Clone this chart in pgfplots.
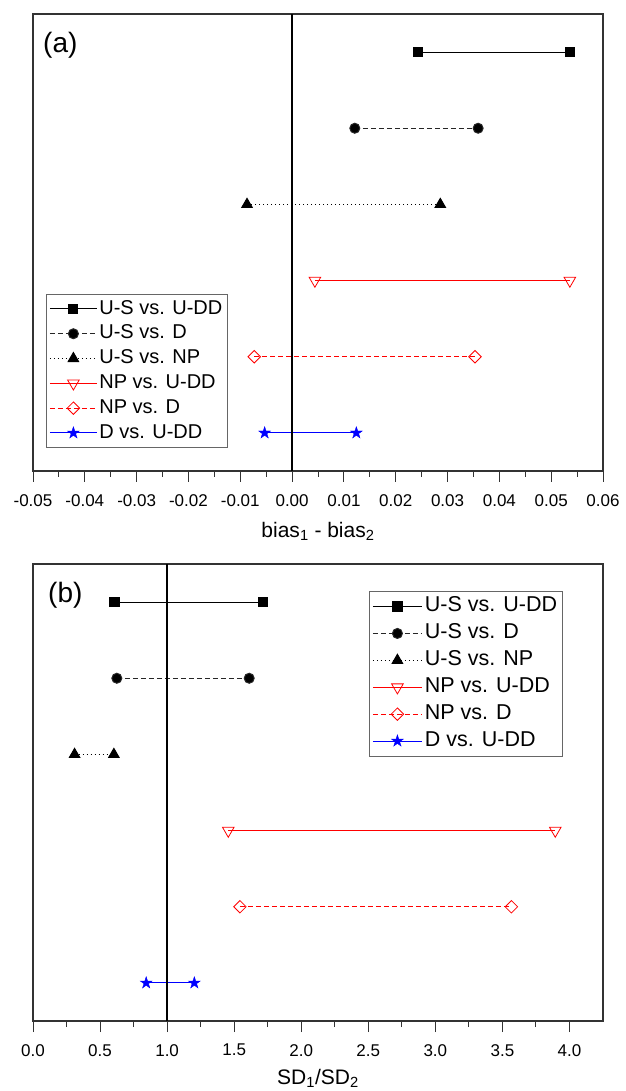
\documentclass[border=0pt]{standalone}
\usepackage{fontspec}
\setmainfont{Liberation Sans}
\usepackage{pgfplots}
\pgfplotsset{compat=1.18}
\usetikzlibrary{plotmarks}

\pgfdeclareplotmark{fstar}{%
  \pgfpathmoveto{\pgfpointpolar{90}{\pgfplotmarksize}}%
  \pgfpathlineto{\pgfpointpolar{126}{0.382\pgfplotmarksize}}%
  \pgfpathlineto{\pgfpointpolar{162}{\pgfplotmarksize}}%
  \pgfpathlineto{\pgfpointpolar{198}{0.382\pgfplotmarksize}}%
  \pgfpathlineto{\pgfpointpolar{234}{\pgfplotmarksize}}%
  \pgfpathlineto{\pgfpointpolar{270}{0.382\pgfplotmarksize}}%
  \pgfpathlineto{\pgfpointpolar{306}{\pgfplotmarksize}}%
  \pgfpathlineto{\pgfpointpolar{342}{0.382\pgfplotmarksize}}%
  \pgfpathlineto{\pgfpointpolar{18}{\pgfplotmarksize}}%
  \pgfpathlineto{\pgfpointpolar{54}{0.382\pgfplotmarksize}}%
  \pgfpathclose
  \pgfusepathqfillstroke}

\pgfplotsset{
  panel/.style={
    scale only axis, width=570pt, height=457pt,
    ymin=0.5, ymax=6.5, ytick=\empty,
    scaled x ticks=false,
    axis line style={line width=1.2pt, black!80},
    xtick pos=bottom, tick align=outside,
    major tick length=11pt, minor tick length=6pt,
    minor x tick num=1,
    every tick/.style={black!80, line width=1pt},
    xticklabel style={font=\fontsize{17}{20}\selectfont, inner sep=0pt, anchor=north},
    xticklabel shift=12pt,
    clip=false,
    legend cell align=left,
  },
  s1/.style={black, line width=1pt, solid, mark=square*, mark size=4.6pt, mark options={solid, fill=black}},
  s2/.style={black!85, line width=1pt, dash pattern=on 5pt off 3pt, mark=*, mark size=5pt, mark options={solid, fill=black}},
  s3/.style={black, line width=1pt, dash pattern=on 1pt off 3pt, mark=triangle*, mark size=6pt, mark options={solid, fill=black}},
  s4/.style={red, line width=1pt, solid, mark=triangle, mark size=6.7pt, mark options={solid, rotate=180, fill=white, line width=0.8pt}},
  s5/.style={red, line width=1pt, dash pattern=on 5pt off 3pt, mark=square, mark size=4.4pt, mark options={solid, rotate=45, fill=white, line width=0.8pt}},
  s6/.style={blue, line width=1pt, solid, mark=fstar, mark size=6.2pt, mark options={solid, fill=blue, line width=0.4pt}},
}

\begin{document}
\begin{tikzpicture}
\begin{axis}[panel,
  at={(33pt,-14pt)}, anchor=north west,
  xmin=-0.05, xmax=0.06,
  xtick={-0.05,-0.04,-0.03,-0.02,-0.01,0,0.01,0.02,0.03,0.04,0.05,0.06},
  xticklabels={-0.05,-0.04,-0.03,-0.02,-0.01,0.00,0.01,0.02,0.03,0.04,0.05,0.06},
  xlabel={bias\textsubscript{1} - bias\textsubscript{2}},
  xlabel style={font=\fontsize{21}{25}\selectfont, at={(axis description cs:0.5,0)}, anchor=base, yshift=-66.7pt, inner sep=0pt},
  legend image code/.code={%
    \draw[#1, mark=none] (0pt,0pt) -- (47pt,0pt);
    \draw[#1] plot coordinates {(23.5pt,0pt)};},
  legend style={at={(axis description cs:0.0228,0.387)}, anchor=north west,
    draw=black!60, line width=0.8pt,
    font=\fontsize{20}{24}\selectfont,
    nodes={inner xsep=2pt, inner ysep=3pt, text height=14.5pt, text depth=4.3pt}},
]
\addplot[s1] coordinates {(0.0243,6) (0.0537,6)};
\addlegendentry{U-S vs. U-DD}
\addplot[s2] coordinates {(0.0121,5) (0.0359,5)};
\addlegendentry{U-S vs. D}
\addplot[s3] coordinates {(-0.0087,4) (0.0286,4)};
\addlegendentry{U-S vs. NP}
\addplot[s4] coordinates {(0.0044,3) (0.0536,3)};
\addlegendentry{NP vs. U-DD}
\addplot[s5] coordinates {(-0.0073,2) (0.0353,2)};
\addlegendentry{NP vs. D}
\addplot[s6] coordinates {(-0.0053,1) (0.0124,1)};
\addlegendentry{D vs. U-DD}
\addplot[black, line width=1.6pt, forget plot] coordinates {(0,0.5) (0,6.5)};
\node[anchor=base west, inner sep=0pt, font=\fontsize{28}{32}\selectfont] at (axis description cs:0.0175,0.9162) {(a)};
\end{axis}

\begin{axis}[panel,
  at={(33pt,-564pt)}, anchor=north west,
  xmin=0, xmax=4.25,
  xtick={0,0.5,1,1.5,2,2.5,3,3.5,4},
  xticklabels={0.0,0.5,1.0,1.5,2.0,2.5,3.0,3.5,4.0},
  xlabel={SD\textsubscript{1}/SD\textsubscript{2}},
  xlabel style={font=\fontsize{21}{25}\selectfont, at={(axis description cs:0.5,0)}, anchor=base, yshift=-63pt, inner sep=0pt},
  legend image code/.code={%
    \draw[#1, mark=none] (0pt,0pt) -- (49pt,0pt);
    \draw[#1] plot coordinates {(24.5pt,0pt)};},
  legend style={at={(axis description cs:0.5895,0.9416)}, anchor=north west,
    draw=black!60, line width=0.8pt,
    font=\fontsize{21.5}{25}\selectfont,
    nodes={inner xsep=2.5pt, inner ysep=3.3pt, text height=15.6pt, text depth=4.7pt}},
]
\addplot[s1] coordinates {(0.608,6) (1.716,6)};
\addlegendentry{U-S vs. U-DD}
\addplot[s2] coordinates {(0.625,5) (1.612,5)};
\addlegendentry{U-S vs. D}
\addplot[s3] coordinates {(0.310,4) (0.603,4)};
\addlegendentry{U-S vs. NP}
\addplot[s4] coordinates {(1.456,3) (3.894,3)};
\addlegendentry{NP vs. U-DD}
\addplot[s5] coordinates {(1.543,2) (3.567,2)};
\addlegendentry{NP vs. D}
\addplot[s6] coordinates {(0.844,1) (1.203,1)};
\addlegendentry{D vs. U-DD}
\addplot[black, line width=1.6pt, forget plot] coordinates {(1,0.5) (1,6.5)};
\node[anchor=base west, inner sep=0pt, font=\fontsize{28}{32}\selectfont] at (axis description cs:0.0263,0.9162) {(b)};
\end{axis}
\path (0pt,0pt) rectangle (625pt,-1091pt);
\end{tikzpicture}
\end{document}
